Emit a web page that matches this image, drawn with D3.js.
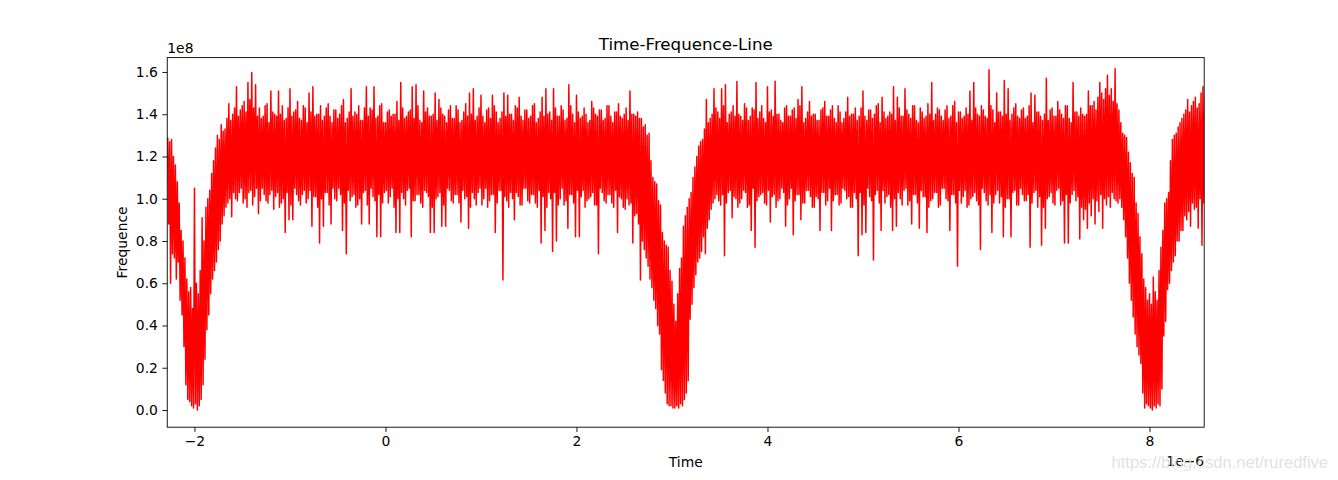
<!DOCTYPE html>
<html>
<head>
<meta charset="utf-8">
<script src="https://cdn.jsdelivr.net/npm/d3@7"></script>
<style>
  html, body { margin: 0; padding: 0; background: #fff; }
  svg { display: block; }
  text { font-family: "DejaVu Sans", sans-serif; }
</style>
</head>
<body>
<svg id="chart" width="1338" height="480"></svg>
<script>
// Time axis (units of 1e-6): uniform sampling grid
const timeStart = -2.28;
const timeStep = 0.01;
// Frequency samples (units of 1e8)
const freq = [
  1.29,0.88,1.27,0.60,1.28,0.74,1.20,0.72,1.16,0.62,1.08,0.70,0.98,0.52,0.85,0.45,0.80,0.30,0.72,0.12,0.62,0.05,0.56,0.04,0.58,0.02,0.48,0.01,1.05,0.03,0.60,0.00,0.55,0.02,0.66,0.05,0.91,0.12,0.80,0.24,
  0.96,0.38,1.00,0.45,1.04,0.55,1.12,0.62,1.18,0.66,1.24,0.70,1.30,0.76,1.28,0.80,1.35,0.88,1.32,0.92,1.33,0.96,1.38,0.98,1.45,1.00,1.37,0.915,1.40,1.03,1.43,1.00,1.53,0.99,1.39,1.03,1.42,1.05,1.44,0.98,
  1.46,1.00,1.41,0.96,1.55,1.03,1.47,1.04,1.597,0.97,1.43,1.01,1.54,1.05,1.39,0.93,1.43,0.99,1.38,1.05,1.39,1.02,1.44,0.99,1.45,0.98,1.36,1.02,1.51,1.04,1.41,0.95,1.40,1.01,1.39,1.03,1.51,0.96,1.40,0.98,
  1.44,1.00,1.37,0.84,1.38,1.03,1.43,0.90,1.52,0.97,1.39,0.90,1.41,1.05,1.42,1.02,1.46,0.99,1.38,0.97,1.37,1.02,1.44,1.04,1.43,0.98,1.36,1.00,1.50,1.04,1.41,0.87,1.53,1.01,1.39,1.01,1.40,0.96,1.40,0.79,
  1.44,1.00,1.37,0.87,1.39,1.03,1.43,1.03,1.45,0.97,1.39,0.88,1.36,1.05,1.42,1.00,1.42,0.99,1.38,1.05,1.40,1.02,1.44,0.85,1.47,0.98,1.36,0.74,1.38,1.04,1.41,0.99,1.52,1.01,1.39,1.02,1.41,0.96,1.40,0.97,
  1.44,1.00,1.37,0.88,1.37,1.03,1.43,1.04,1.53,0.97,1.39,0.88,1.43,1.05,1.42,1.01,1.53,0.99,1.38,0.82,1.39,1.02,1.44,0.82,1.45,0.98,1.36,1.03,1.36,1.04,1.41,0.98,1.42,1.01,1.39,1.05,1.40,0.96,1.40,0.84,
  1.46,1.00,1.37,0.84,1.55,1.03,1.43,1.00,1.38,0.97,1.39,1.04,1.41,1.05,1.42,0.82,1.53,0.99,1.38,0.99,1.54,1.02,1.44,1.02,1.37,0.98,1.36,0.96,1.51,1.04,1.41,1.03,1.43,1.01,1.39,0.84,1.39,0.96,1.40,0.84,
  1.50,1.00,1.37,1.01,1.47,1.03,1.43,0.87,1.40,0.97,1.39,0.87,1.36,1.05,1.42,1.04,1.44,0.99,1.38,0.98,1.38,1.02,1.44,1.02,1.42,0.98,1.36,0.89,1.37,1.04,1.41,1.00,1.45,1.01,1.39,0.86,1.50,0.96,1.40,1.03,
  1.52,1.00,1.37,0.97,1.39,1.03,1.43,1.05,1.49,0.97,1.39,1.00,1.36,1.05,1.42,0.96,1.43,0.99,1.38,1.02,1.49,1.02,1.44,0.84,1.41,0.98,1.36,1.04,1.38,1.04,1.41,0.615,1.50,1.01,1.39,0.99,1.49,0.96,1.40,1.03,
  1.40,1.00,1.37,0.90,1.44,1.03,1.43,1.01,1.48,0.97,1.39,0.97,1.37,1.05,1.42,1.05,1.42,0.99,1.38,0.98,1.39,1.02,1.44,1.02,1.45,0.98,1.36,0.96,1.38,1.04,1.41,0.79,1.48,1.01,1.39,0.85,1.52,0.96,1.40,1.03,
  1.41,1.00,1.37,0.75,1.52,1.03,1.43,0.80,1.39,0.97,1.39,1.00,1.44,1.05,1.42,0.97,1.37,0.99,1.38,0.86,1.54,1.02,1.44,1.02,1.40,0.98,1.36,0.82,1.49,1.04,1.41,0.82,1.38,1.01,1.39,1.04,1.43,0.96,1.40,0.99,
  1.36,1.00,1.37,1.01,1.46,1.03,1.43,0.97,1.40,0.97,1.39,0.74,1.42,1.05,1.42,1.03,1.37,0.99,1.38,0.98,1.44,1.02,1.44,1.02,1.39,0.98,1.36,0.96,1.41,1.04,1.41,0.84,1.45,1.01,1.39,1.00,1.38,0.96,1.40,0.95,
  1.43,1.00,1.37,0.97,1.51,0.98,1.40,0.79,1.40,0.92,1.39,0.93,1.41,0.88,1.38,0.615,1.38,0.80,1.34,0.76,1.35,0.72,1.30,0.68,1.31,0.62,1.18,0.58,1.10,0.52,1.08,0.48,1.07,0.40,0.99,0.36,0.97,0.19,0.84,0.14,
  0.80,0.08,0.78,0.03,0.77,0.02,0.66,0.02,0.61,0.01,0.50,0.01,0.42,0.02,0.55,0.01,0.67,0.03,0.72,0.02,0.87,0.05,0.92,0.08,0.96,0.14,1.00,0.43,1.03,0.50,1.10,0.58,1.15,0.64,1.20,0.70,1.25,0.72,1.27,0.75,
  1.28,0.82,1.33,0.74,1.47,0.86,1.36,0.90,1.38,0.95,1.40,0.98,1.52,1.00,1.43,1.02,1.41,0.99,1.38,0.97,1.52,1.02,1.44,0.73,1.54,0.98,1.36,1.03,1.40,1.04,1.41,0.91,1.44,1.01,1.39,1.00,1.555,0.96,1.40,0.98,
  1.39,1.00,1.37,1.04,1.45,1.03,1.43,0.96,1.37,0.97,1.39,0.85,1.43,1.05,1.42,0.77,1.55,0.99,1.38,1.01,1.41,1.02,1.44,1.03,1.38,0.98,1.36,0.97,1.53,1.04,1.41,0.89,1.42,1.01,1.39,1.02,1.556,0.96,1.40,0.99,
  1.40,1.00,1.37,1.05,1.36,1.03,1.43,0.87,1.44,0.97,1.39,1.00,1.39,1.05,1.42,0.83,1.43,0.99,1.38,1.02,1.47,1.02,1.44,0.90,1.53,0.98,1.36,0.98,1.38,1.04,1.41,1.04,1.46,1.01,1.39,0.96,1.40,0.96,1.40,1.01,
  1.37,1.00,1.37,0.85,1.42,1.03,1.43,1.03,1.46,0.97,1.39,0.99,1.39,1.05,1.42,0.85,1.44,0.99,1.38,1.02,1.36,1.02,1.44,0.97,1.41,0.98,1.36,1.05,1.38,1.04,1.41,1.00,1.48,1.01,1.39,0.96,1.40,0.96,1.40,1.03,
  1.43,1.00,1.37,0.73,1.39,1.03,1.43,0.83,1.51,0.97,1.39,0.84,1.37,1.05,1.42,1.01,1.42,0.99,1.38,0.71,1.40,1.02,1.44,1.04,1.45,0.98,1.36,0.85,1.48,1.04,1.41,0.98,1.38,1.01,1.39,1.02,1.41,0.96,1.40,0.85,
  1.53,1.00,1.37,0.87,1.48,1.03,1.43,1.00,1.39,0.97,1.39,1.04,1.52,1.05,1.42,0.97,1.40,0.99,1.38,0.88,1.44,1.02,1.44,1.02,1.37,0.98,1.36,0.86,1.43,1.04,1.41,1.01,1.38,1.01,1.39,0.84,1.45,0.96,1.40,0.99,
  1.55,1.00,1.37,1.03,1.40,1.03,1.43,0.96,1.42,0.97,1.39,1.05,1.37,1.05,1.42,1.00,1.44,0.99,1.38,0.85,1.39,1.02,1.44,1.02,1.46,0.98,1.36,0.68,1.41,1.04,1.41,0.98,1.38,1.01,1.39,1.04,1.43,0.96,1.40,0.97,
  1.51,1.00,1.37,1.01,1.55,1.03,1.43,0.99,1.40,0.97,1.39,0.76,1.44,1.05,1.42,1.03,1.39,0.99,1.38,0.97,1.61,1.02,1.44,0.84,1.42,0.98,1.36,1.02,1.50,1.04,1.41,0.98,1.41,1.01,1.39,0.82,1.56,0.96,1.40,1.00,
  1.52,1.00,1.37,0.82,1.40,1.03,1.43,1.04,1.45,0.97,1.39,0.97,1.38,1.05,1.42,1.02,1.43,0.99,1.38,0.99,1.39,1.02,1.44,0.77,1.50,0.98,1.36,1.03,1.49,1.04,1.41,0.96,1.41,1.01,1.39,0.78,1.37,0.96,1.40,0.86,
  1.57,1.00,1.37,1.01,1.42,1.03,1.43,0.98,1.39,0.97,1.39,1.04,1.46,1.05,1.42,0.97,1.40,0.99,1.38,0.79,1.44,1.02,1.44,0.79,1.38,0.98,1.36,1.02,1.55,1.04,1.41,0.99,1.41,1.01,1.39,0.81,1.43,0.96,1.40,0.90,
  1.39,0.95,1.40,0.86,1.51,0.98,1.44,0.92,1.44,1.00,1.46,0.88,1.42,0.99,1.48,0.94,1.55,1.02,1.50,0.86,1.47,1.00,1.52,0.97,1.585,1.01,1.49,0.96,1.52,1.03,1.46,1.00,1.615,0.99,1.45,0.98,1.42,1.00,1.36,0.96,
  1.31,0.90,1.30,0.82,1.29,0.72,1.22,0.60,1.17,0.52,1.12,0.44,1.10,0.36,0.98,0.30,0.93,0.26,0.82,0.22,0.74,0.08,0.62,0.01,0.58,0.03,0.52,0.02,0.55,0.01,0.50,0.00,0.63,0.02,0.56,0.01,0.52,0.03,0.66,0.02,
  0.77,0.10,0.85,0.35,0.98,0.42,1.00,0.57,1.03,0.60,1.18,0.66,1.28,0.70,1.30,0.73,1.31,0.80,1.34,0.80,1.36,0.85,1.38,0.85,1.40,0.92,1.42,0.90,1.47,0.94,1.41,0.87,1.44,0.98,1.46,0.95,1.48,0.96,1.43,0.86,
  1.45,1.00,1.50,0.78,1.53,0.98,1.48,0.95
];
const xTicks = [-2, 0, 2, 4, 6, 8];
const yTicks = [0.0, 0.2, 0.4, 0.6, 0.8, 1.0, 1.2, 1.4, 1.6];
const titleText = "Time-Frequence-Line";
const xLabel = "Time";
const yLabel = "Frequence";

const W = 1338, H = 480;
const L = 167.25, R = 1204.2, T = 57.6, B = 427.2;
const svg = d3.select("#chart");
svg.append("rect").attr("width", W).attr("height", H).attr("fill", "#fff");

const x = d3.scaleLinear().domain([-2.285, 8.573]).range([L, R]);
const y = d3.scaleLinear().domain([-0.0814, 1.668]).range([B, T]);

const data = freq.map((v, i) => ({ t: timeStart + i * timeStep, v }));

svg.append("defs").append("clipPath").attr("id", "clip")
  .append("rect").attr("x", L).attr("y", T).attr("width", R - L).attr("height", B - T);

const line = d3.line().x(d => x(d.t)).y(d => y(d.v));
svg.append("path").datum(data)
  .attr("clip-path", "url(#clip)")
  .attr("fill", "none").attr("stroke", "#ff0000")
  .attr("stroke-width", 1.5).attr("stroke-linejoin", "round")
  .attr("d", line);

const fmtMinus = s => s.replace("-", "\u2212");
const xAxis = d3.axisBottom(x).tickValues(xTicks).tickSize(4.86).tickPadding(4.5)
  .tickFormat(d => fmtMinus(d3.format("d")(d)));
const gx = svg.append("g").attr("transform", `translate(0,${B})`).call(xAxis);
const yAxis = d3.axisLeft(y).tickValues(yTicks).tickSize(4.86).tickPadding(4.5)
  .tickFormat(d3.format(".1f"));
const gy = svg.append("g").attr("transform", `translate(${L},0)`).call(yAxis);
[gx, gy].forEach(g => {
  g.select(".domain").remove();
  g.selectAll(".tick line").attr("stroke", "#000").attr("stroke-width", 0.9);
  g.selectAll(".tick text").attr("fill", "#000")
    .style("font-family", "'DejaVu Sans', sans-serif").style("font-size", "13.9px");
});

// spines
svg.append("rect").attr("x", L).attr("y", T).attr("width", R - L).attr("height", B - T)
  .attr("fill", "none").attr("stroke", "#000").attr("stroke-width", 0.9);

svg.append("text").attr("x", (L + R) / 2).attr("y", 49.5).attr("text-anchor", "middle")
  .style("font-size", "16.67px").attr("fill", "#000").text(titleText);
svg.append("text").attr("x", (L + R) / 2).attr("y", 467).attr("text-anchor", "middle")
  .style("font-size", "13.9px").attr("fill", "#000").text(xLabel);
svg.append("text").attr("transform", `translate(127,${(T + B) / 2}) rotate(-90)`)
  .attr("text-anchor", "middle").style("font-size", "13.9px").attr("fill", "#000").text(yLabel);
svg.append("text").attr("x", L).attr("y", 52.5).attr("text-anchor", "start")
  .style("font-size", "13.9px").attr("fill", "#000").text("1e8");
svg.append("text").attr("x", R).attr("y", 466).attr("text-anchor", "end")
  .style("font-size", "13.9px").attr("fill", "#000").text("1e\u22126");
// watermark
svg.append("text").attr("x", 1328).attr("y", 468).attr("text-anchor", "end")
  .style("font-family", "'Liberation Sans', Arial, sans-serif").style("font-size", "16.5px")
  .attr("fill", "#dcdcdc").attr("fill-opacity", 0.85).text("https://blog.csdn.net/ruredfive");
</script>
</body>
</html>
